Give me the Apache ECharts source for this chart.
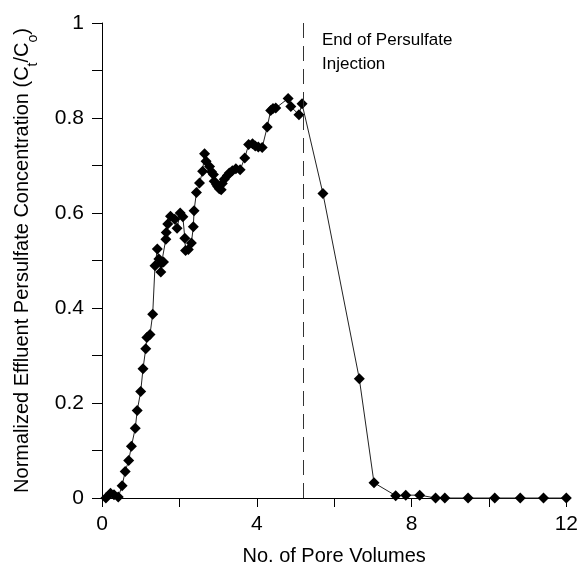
<!DOCTYPE html>
<html>
<head>
<meta charset="utf-8">
<script src="https://cdn.jsdelivr.net/npm/echarts@6/dist/echarts.min.js"></script>
<style>
  html, body { margin: 0; padding: 0; background: #fff; }
  #chart { width: 581px; height: 574px; }
</style>
</head>
<body>
<div id="chart"></div>
<script>
// pore volumes (x) and normalized concentration Ct/Co (y)
const poreVolumes = [0.10, 0.22, 0.31, 0.42, 0.52, 0.60, 0.69, 0.76, 0.86, 0.91,
  1.00, 1.06, 1.13, 1.16, 1.24, 1.31, 1.37, 1.43, 1.47, 1.52,
  1.54, 1.59, 1.65, 1.66, 1.70, 1.77, 1.88, 1.94, 2.02, 2.09,
  2.14, 2.16, 2.23, 2.31, 2.36, 2.38, 2.44, 2.52, 2.60, 2.65,
  2.69, 2.78, 2.83, 2.88, 2.90, 2.96, 2.99, 3.03, 3.08, 3.11,
  3.16, 3.24, 3.29, 3.37, 3.46, 3.57, 3.69, 3.79, 3.89, 3.96,
  4.04, 4.14, 4.27, 4.36, 4.42, 4.49, 4.81, 4.88, 5.09, 5.17,
  5.71, 6.65, 7.03, 7.59, 7.85, 8.21, 8.62, 8.86, 9.46, 10.15,
  10.81, 11.41, 12.0];
const concentration = [0.000, 0.010, 0.007, 0.002, 0.026, 0.056, 0.079, 0.109, 0.147, 0.184,
  0.224, 0.272, 0.314, 0.338, 0.344, 0.387, 0.489, 0.524, 0.503, 0.476,
  0.495, 0.497, 0.545, 0.559, 0.577, 0.593, 0.587, 0.568, 0.600, 0.592,
  0.547, 0.521, 0.523, 0.537, 0.571, 0.605, 0.643, 0.663, 0.688, 0.725,
  0.709, 0.698, 0.687, 0.681, 0.667, 0.660, 0.656, 0.651, 0.649, 0.662,
  0.671, 0.679, 0.684, 0.689, 0.693, 0.691, 0.716, 0.744, 0.746, 0.741,
  0.739, 0.738, 0.781, 0.816, 0.820, 0.821, 0.841, 0.824, 0.807, 0.830,
  0.641, 0.251, 0.032, 0.005, 0.006, 0.006, 0, 0, 0, 0,
  0, 0, 0];

// end of persulfate injection (pore volumes)
const injectionEnd = 5.2;
const injectionNote = 'End of Persulfate\nInjection';

const xLabels = [0, 4, 8, 12];
const yLabels = [0, 0.2, 0.4, 0.6, 0.8, 1];

const font = '"Liberation Sans", Arial, sans-serif';

const chart = echarts.init(document.getElementById('chart'), null, { renderer: 'canvas' });

const points = poreVolumes.map((x, i) => [x, concentration[i]]);

const option = {
  animation: false,
  backgroundColor: '#fff',
  grid: {
    left: 102,
    right: 12,
    top: 23,
    bottom: 76
  },
  xAxis: {
    type: 'value',
    min: 0,
    max: 12,
    interval: 2,
    name: 'No. of Pore Volumes',
    nameLocation: 'middle',
    nameGap: 48,
    nameTextStyle: { fontFamily: font, fontSize: 20, color: '#000' },
    axisLine: { lineStyle: { color: '#000', width: 1 } },
    axisTick: { show: true, length: 9, lineStyle: { color: '#000' } },
    axisLabel: {
      fontFamily: font,
      fontSize: 21,
      color: '#000',
      margin: 16,
      formatter: v => (xLabels.indexOf(v) >= 0 ? String(v) : '')
    },
    splitLine: { show: false }
  },
  yAxis: {
    type: 'value',
    min: 0,
    max: 1,
    interval: 0.1,
    name: '{n|Normalized Effluent Persulfate Concentration (C}{s|t}{n|/C}{s|o}{n|)}',
    nameLocation: 'middle',
    nameGap: 66,
    nameTextStyle: {
      fontFamily: font,
      color: '#000',
      rich: {
        n: { fontFamily: font, fontSize: 20, lineHeight: 24, verticalAlign: 'top', color: '#000' },
        s: { fontFamily: font, fontSize: 14, lineHeight: 14, verticalAlign: 'top', padding: [14, 0, 0, 0], color: '#000' }
      }
    },
    axisLine: { show: true, lineStyle: { color: '#000', width: 1 } },
    axisTick: { show: true, length: 10, lineStyle: { color: '#000' } },
    axisLabel: {
      fontFamily: font,
      fontSize: 21,
      color: '#000',
      margin: 18,
      formatter: v => {
        const r = Math.round(v * 10) / 10;
        return yLabels.indexOf(r) >= 0 ? String(r) : '';
      }
    },
    splitLine: { show: false }
  },
  graphic: [
    {
      type: 'text',
      left: 322,
      top: 28,
      style: {
        text: injectionNote,
        font: '17px ' + font,
        lineHeight: 24,
        fill: '#000'
      }
    }
  ],
  series: [
    {
      type: 'line',
      data: points,
      symbol: 'diamond',
      symbolSize: 11,
      clip: false,
      itemStyle: { color: '#000' },
      lineStyle: { color: '#222', width: 1 },
      markLine: {
        silent: true,
        symbol: ['none', 'none'],
        label: { show: false },
        lineStyle: { color: '#333', width: 1, type: [15, 8] },
        data: [{ xAxis: injectionEnd }]
      }
    }
  ]
};

chart.setOption(option);
</script>
</body>
</html>
